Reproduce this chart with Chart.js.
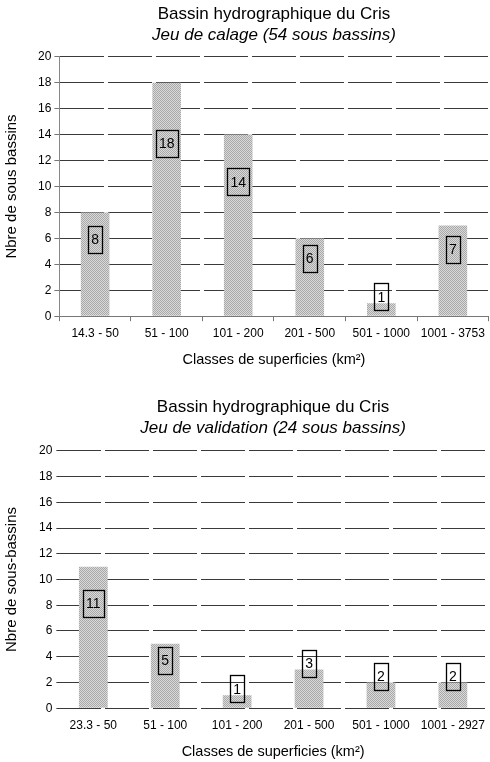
<!DOCTYPE html>
<html>
<head>
<meta charset="utf-8">
<script src="https://cdn.jsdelivr.net/npm/chart.js@4/dist/chart.umd.min.js"></script>
<style>
  body { margin: 0; background: #fff; }
  .bloc { position: relative; width: 490px; }
</style>
</head>
<body>
<div class="bloc" style="height:376px"><canvas id="calage"></canvas></div>
<div class="bloc" style="height:386px"><canvas id="validation"></canvas></div>
<script>
// Jeu de calage
const classesCalage = ["14.3 - 50", "51 - 100", "101 - 200", "201 - 500", "501 - 1000", "1001 - 3753"];
const nbCalage = [8, 18, 14, 6, 1, 7];

// Jeu de validation
const classesValidation = ["23.3 - 50", "51 - 100", "101 - 200", "201 - 500", "501 - 1000", "1001 - 2927"];
const nbValidation = [11, 5, 1, 3, 2, 2];

const ticksY = [0, 2, 4, 6, 8, 10, 12, 14, 16, 18, 20];

Chart.defaults.font.family = "'Liberation Sans', Arial, sans-serif";
Chart.defaults.color = "#000";

// trame grise pointillee des barres
function trame() {
  const c = document.createElement("canvas");
  c.width = 2; c.height = 2;
  const g = c.getContext("2d");
  g.fillStyle = "#dadada"; g.fillRect(0, 0, 2, 2);
  g.fillStyle = "#a8a8a8"; g.fillRect(0, 0, 1, 1); g.fillRect(1, 1, 1, 1);
  return g.createPattern(c, "repeat");
}

// etiquettes encadrees
const etiquettes = {
  id: "etiquettes",
  afterDatasetsDraw(chart) {
    const ctx = chart.ctx;
    const y = chart.scales.y;
    const meta = chart.getDatasetMeta(0);
    ctx.save();
    ctx.font = "14px 'Liberation Sans', Arial, sans-serif";
    ctx.textAlign = "center";
    ctx.textBaseline = "middle";
    ctx.strokeStyle = "#000";
    ctx.lineWidth = 1.3;
    meta.data.forEach((bar, i) => {
      const v = chart.data.datasets[0].data[i];
      const centre = v <= 3 ? v + 0.5 : v * 0.74;
      const py = y.getPixelForValue(centre);
      const txt = String(v);
      const w = ctx.measureText(txt).width + 6;
      const h = 27;
      ctx.strokeRect(Math.round(bar.x - w / 2) + 0.5, Math.round(py - h / 2) + 0.5, Math.round(w), h);
      ctx.fillStyle = "#000";
      ctx.fillText(txt, bar.x, py + 1);
    });
    ctx.restore();
  }
};

function graphique(id, classes, valeurs, sousTitre, titreY, avecAxe) {
  const canvas = document.getElementById(id);
  return new Chart(canvas, {
    type: "bar",
    data: {
      labels: classes,
      datasets: [{
        data: valeurs,
        backgroundColor: trame(),
        borderWidth: 0,
        categoryPercentage: 1,
        barPercentage: 0.4
      }]
    },
    options: {
      responsive: true,
      maintainAspectRatio: false,
      animation: false,
      layout: { padding: { left: 3, right: 1, bottom: avecAxe ? 3 : 0 } },
      plugins: {
        legend: { display: false },
        tooltip: { enabled: false },
        title: {
          display: true,
          text: "Bassin hydrographique du Cris",
          fullSize: false,
          font: { size: 17, weight: "normal" },
          padding: { top: avecAxe ? 4 : 21, bottom: 1 }
        },
        subtitle: {
          display: true,
          text: sousTitre,
          fullSize: false,
          font: { size: 17, style: "italic" },
          padding: { top: 0, bottom: avecAxe ? 11 : 12 }
        }
      },
      scales: {
        x: {
          grid: { display: avecAxe, drawOnChartArea: false, tickLength: 5, color: "#777" },
          border: { display: avecAxe, color: "#777" },
          ticks: { font: { size: 12 }, padding: 5, maxRotation: 0 },
          title: {
            display: true,
            text: "Classes de superficies (km²)",
            font: { size: 14.5 },
            padding: avecAxe ? { top: 6 } : { top: 6, bottom: 1 }
          }
        },
        y: {
          min: 0,
          max: 20,
          afterBuildTicks: (axe) => { axe.ticks = ticksY.map((v) => ({ value: v })); },
          grid: { color: "#3a3a3a", tickLength: avecAxe ? 5 : 1, tickColor: avecAxe ? "#777" : "#3a3a3a" },
          border: { display: avecAxe, color: "#888", dash: [44, 4] },
          ticks: { font: { size: 12 }, padding: avecAxe ? 3 : 4 },
          title: {
            display: true,
            text: titreY,
            font: { size: 15 },
            padding: { top: 0, bottom: 14 }
          }
        }
      }
    },
    plugins: [etiquettes]
  });
}

graphique("calage", classesCalage, nbCalage, "Jeu de calage (54 sous bassins)", "Nbre de sous bassins", true);
graphique("validation", classesValidation, nbValidation, "Jeu de validation (24 sous bassins)", "Nbre de sous-bassins", false);
</script>
</body>
</html>
